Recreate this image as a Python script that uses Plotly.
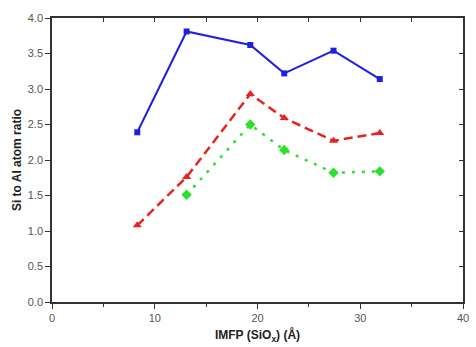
import plotly.graph_objects as go

x_blue = [8.3, 13.1, 19.3, 22.6, 27.4, 31.9]
y_blue = [2.39, 3.81, 3.62, 3.22, 3.54, 3.14]
x_red = [8.3, 13.1, 19.3, 22.6, 27.4, 31.9]
y_red = [1.08, 1.76, 2.93, 2.59, 2.27, 2.38]
x_green = [13.1, 19.3, 22.6, 27.4, 31.9]
y_green = [1.51, 2.50, 2.14, 1.82, 1.84]

fig = go.Figure()
fig.add_trace(go.Scatter(x=x_blue, y=y_blue, mode="lines+markers",
                         line=dict(color="#1f1fe0", width=2),
                         marker=dict(symbol="square", size=6, color="#1f1fe0")))
fig.add_trace(go.Scatter(x=x_red, y=y_red, mode="lines+markers",
                         line=dict(color="#e8231f", width=2.5, dash="9px,5px"),
                         marker=dict(symbol="triangle-up", size=8, color="#e8231f")))
fig.add_trace(go.Scatter(x=x_green, y=y_green, mode="lines+markers",
                         line=dict(color="#2ee02e", width=2.5, dash="3px,7px"),
                         marker=dict(symbol="diamond", size=8, color="#2ee02e")))

font = dict(family="Liberation Sans, Arial, sans-serif", size=11, color="#555555")
title_font = dict(family="Liberation Sans, Arial, sans-serif", size=12, color="#222")
fig.update_layout(
    width=476, height=347, showlegend=False,
    plot_bgcolor="white", paper_bgcolor="white",
    margin=dict(l=52, r=7, t=18, b=44),
    font=font,
    xaxis=dict(range=[0, 40], tickvals=[0, 10, 20, 30, 40], ticks="outside", ticklen=5,
               tickcolor="#333", showline=True, linecolor="#333", linewidth=1.5, mirror=True,
               showgrid=False, zeroline=False,
               minor=dict(tickvals=[5, 15, 25, 35], ticks="outside", ticklen=3, tickcolor="#333"),
               title=dict(text="<b>IMFP (SiO<sub>x</sub>) (Å)</b>", standoff=8, font=title_font)),
    yaxis=dict(range=[0, 4], dtick=0.5, tickformat=".1f", ticks="outside", ticklen=5,
               tickcolor="#333", showline=True, linecolor="#333", linewidth=1.5, mirror=True,
               showgrid=False, zeroline=False,
               title=dict(text="<b>Si to Al atom ratio</b>", standoff=4, font=title_font)),
    xaxis2=dict(overlaying="x", side="top", range=[0, 40], tickvals=[5, 10, 15, 20, 25, 30, 35],
                ticks="inside", ticklen=4, tickcolor="#333", showticklabels=False,
                showgrid=False, zeroline=False, matches="x"),
    yaxis2=dict(overlaying="y", side="right", range=[0, 4], dtick=0.5,
                ticks="inside", ticklen=4, tickcolor="#333", showticklabels=False,
                showgrid=False, zeroline=False),
)
fig.add_trace(go.Scatter(x=[None], y=[None], xaxis="x2", yaxis="y2", showlegend=False, hoverinfo="skip"))

fig.write_html("out.html", config={"displayModeBar": False})
with open("out.html", "r", encoding="utf-8") as f:
    html = f.read()
html = html.replace("<body>", '<body style="margin:0;padding:0;">', 1)
with open("out.html", "w", encoding="utf-8") as f:
    f.write(html)
